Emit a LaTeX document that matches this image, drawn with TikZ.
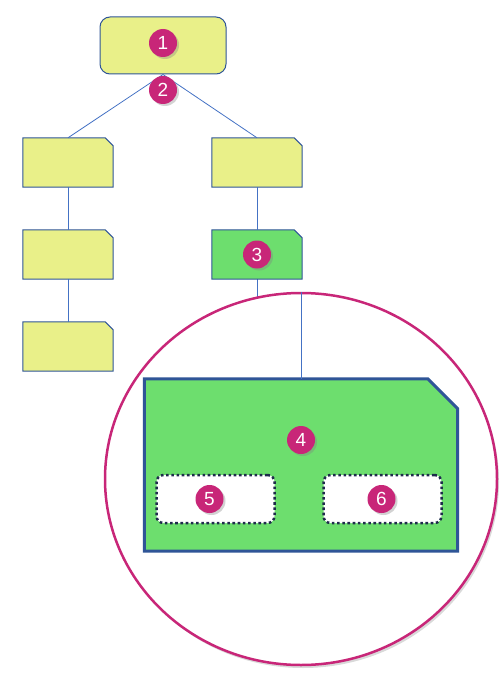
\documentclass[tikz,border=0pt]{standalone}
\usepackage{fontspec}
\setmainfont{Liberation Sans}
\usetikzlibrary{positioning, shapes.geometric, shadows, backgrounds}
\definecolor{boxyellow}{RGB}{233,240,137}
\definecolor{boxgreen}{RGB}{109,222,110}
\definecolor{edgeblue}{RGB}{47,85,151}
\definecolor{lineblue}{RGB}{68,114,196}
\definecolor{badgepink}{RGB}{200,38,120}
\definecolor{dotnavy}{RGB}{30,44,76}

% outline of a card with its top right corner cut off
\newcommand{\cardshape}[3][]{%
    \draw[draw=edgeblue, fill=boxyellow, line width=1pt, #1] (#2.south west) -- (#2.north west)
        -- ([xshift=-#3]#2.north east) -- ([yshift=-#3]#2.north east)
        -- (#2.south east) -- cycle;}

\begin{document}
\begin{tikzpicture}[x=1pt, y=-1pt, node distance=92pt, on grid,
    card/.style={rectangle, minimum width=90pt, minimum height=49pt, inner sep=0pt},
    bigcard/.style={rectangle, minimum width=313pt, minimum height=172pt, inner sep=0pt},
    slot/.style={draw=dotnavy, fill=white, rounded corners=7pt, line width=2.5pt,
        dash pattern=on 2.6pt off 2.6pt, minimum width=118pt, minimum height=48pt},
    badge/.style={circle, fill=badgepink, text=white, minimum size=28pt, inner sep=0pt,
        font=\fontsize{19}{19}\selectfont,
        drop shadow={opacity=0.35, shadow xshift=2pt, shadow yshift=-2pt}},
    link/.style={draw=lineblue, line width=0.8pt}]
    \useasboundingbox (0,0) rectangle (502,674);

    \node[rectangle, rounded corners=10pt, draw=edgeblue, fill=boxyellow, line width=1pt,
        minimum width=126pt, minimum height=57pt] (top) at (163,45.5) {};
    \node[card, below left=117pt and 95pt of top] (l1) {};
    \node[card, below=of l1] (l2) {};
    \node[card, below=of l2] (l3) {};
    \node[card, right=189pt of l1] (r1) {};
    \node[card, below=of r1] (r2) {};
    \cardshape{l1}{8pt}
    \cardshape{l2}{8pt}
    \cardshape{l3}{8pt}
    \cardshape{r1}{8pt}
    \cardshape[fill=boxgreen]{r2}{8pt}

    % zoomed view of the green card
    \node[ellipse, draw=badgepink, fill=white, line width=2.5pt,
        minimum width=392pt, minimum height=372pt,
        drop shadow={opacity=0.3, shadow xshift=2pt, shadow yshift=-3pt},
        below right=224.5pt and 44pt of r2] (lens) {};
    \node[bigcard, above=14pt of lens] (big) {};
    \cardshape[fill=boxgreen, line width=3pt]{big}{30pt}
    \node[slot, below left=34pt and 85.5pt of big] (s5) {};
    \node[slot, below right=34pt and 81.5pt of big] (s6) {};

    \path[link]
        (top.south) edge (l1.north)
        (top.south) edge (r1.north)
        (l1) edge (l2)
        (l2) edge (l3)
        (r1) edge (r2)
        (lens.north) edge (big.north);
    \begin{scope}[on background layer]
        \draw[link] (r2.south) -- (r2.south |- lens.center);
    \end{scope}

    \node[badge, above=2.5pt of top] (n1) {1};
    \node[badge, below=44.5pt of top] (n2) {2};
    \node[badge] (n3) at (r2) {3};
    \node[badge, above=25pt of big] (n4) {4};
    \node[badge, left=6pt of s5] (n5) {5};
    \node[badge, left=1pt of s6] (n6) {6};
\end{tikzpicture}
\end{document}
